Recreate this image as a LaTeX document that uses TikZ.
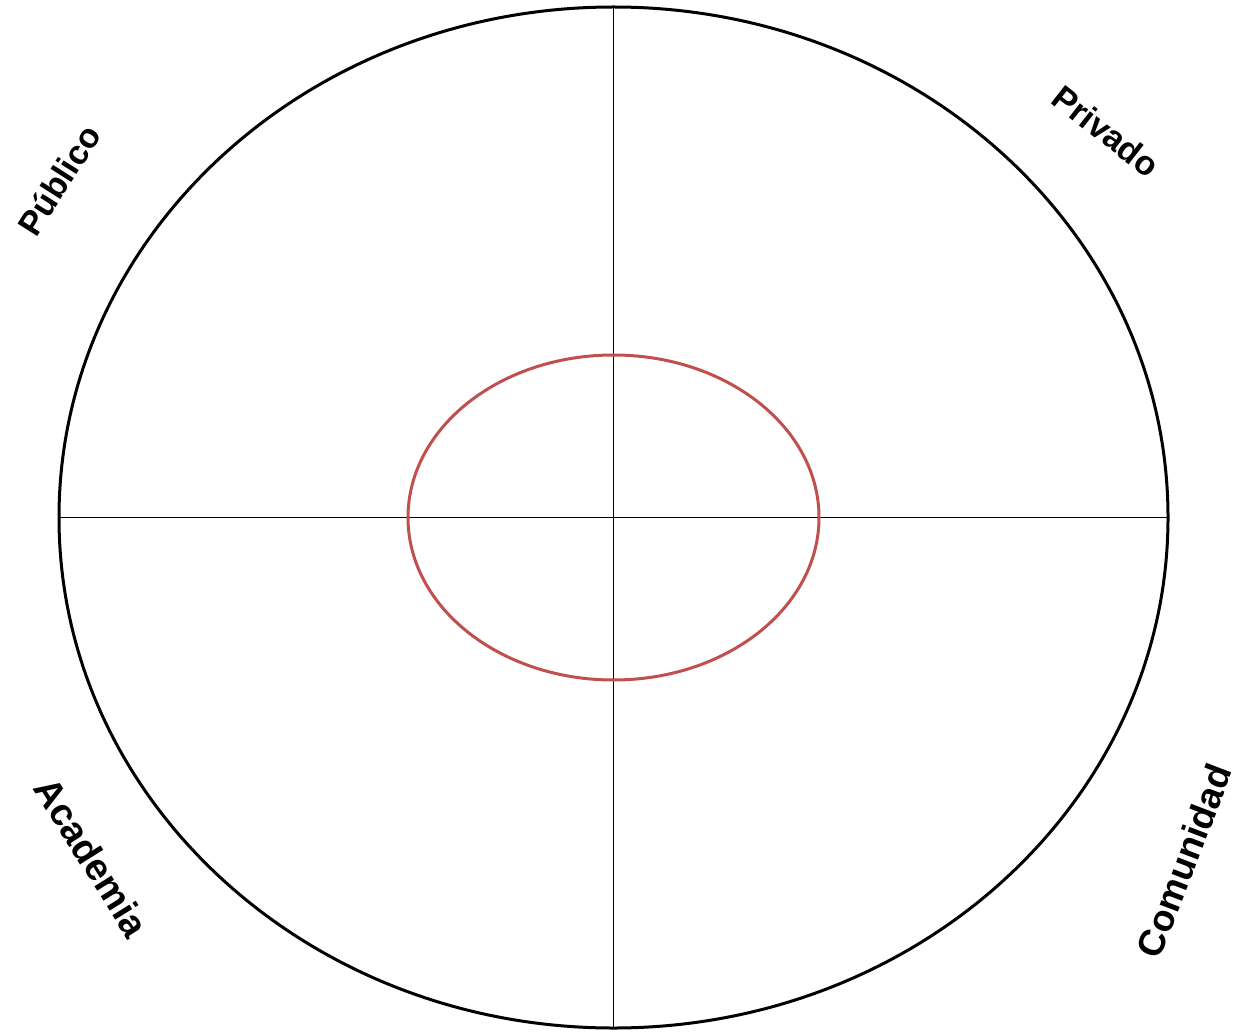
\documentclass[tikz,border=0pt]{standalone}
\usepackage{fontspec}
\setmainfont{Liberation Sans}
\definecolor{redring}{HTML}{C0504D}
\begin{document}
\begin{tikzpicture}[x=1pt,y=-1pt,
  lbl/.style={font=\bfseries\fontsize{#1}{#1}\selectfont, inner sep=0pt}]
\useasboundingbox (0,0) rectangle (1238,1032);
\coordinate (c) at (613.5,517.5);
\coordinate (top) at (613.5,7);
\coordinate (bot) at (613.5,1028);
\coordinate (lft) at (59,517.5);
\coordinate (rgt) at (1168,517.5);
\draw[line width=1.3pt] (top) -- (bot);
\draw[line width=1.3pt] (lft) -- (rgt);
\draw[line width=3pt] (c) ellipse [x radius=554.5, y radius=510.5];
\draw[line width=3pt, redring] (c) ellipse [x radius=205.5, y radius=162.5];
\node[lbl=34, rotate=57.5] (pub) at (59,180) {Público};
\node[lbl=34, rotate=-38] (priv) at (1106,131) {Privado};
\node[lbl=38, rotate=-58] (acad) at (92,857) {Academia};
\node[lbl=37, rotate=69] (com) at (1184,861) {Comunidad};
\end{tikzpicture}
\end{document}
